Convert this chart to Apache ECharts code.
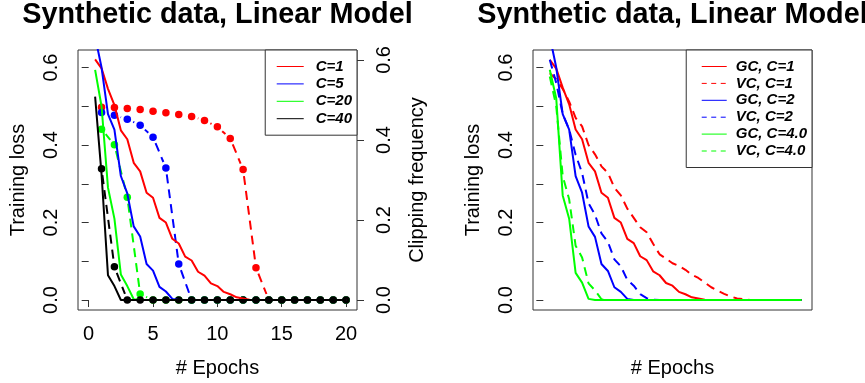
<!DOCTYPE html>
<html><head><meta charset="utf-8">
<script src="https://cdn.jsdelivr.net/npm/echarts@6/dist/echarts.min.js"></script>
<style>html,body{margin:0;padding:0;background:#fff}#chart{width:865px;height:383px}</style>
</head><body><div id="chart"></div>
<script>
// ---------- data ----------
const titleText = 'Synthetic data, Linear Model';
const lossEpochs = [0.5,1,1.5,2,2.5,3,3.5,4,4.5,5,5.5,6,6.5,7,7.5,8,8.5,9,9.5,10,10.5,11,11.5,12,12.5,13,13.5,14,14.5,15,15.5,16,16.5,17,17.5,18,18.5,19,19.5,20];
const clipEpochs = [1,2,3,4,5,6,7,8,9,10,11,12,13,14,15,16,17,18,19,20];
const leftNames = ['C=1','C=5','C=20','C=40'];
// training loss (left axis), left panel
const lossC1  = [0.621,0.598,0.545,0.503,0.438,0.415,0.354,0.332,0.277,0.264,0.212,0.200,0.158,0.146,0.112,0.102,0.073,0.063,0.043,0.036,0.021,0.015,0.007,0.004,0.001,0,0,0,0,0,0,0,0,0,0,0,0,0,0,0];
const lossC5  = [0.680,0.600,0.480,0.440,0.320,0.275,0.190,0.164,0.093,0.076,0.034,0.022,0.003,0,0,0,0,0,0,0,0,0,0,0,0,0,0,0,0,0,0,0,0,0,0,0,0,0,0,0];
const lossC20 = [0.594,0.500,0.290,0.210,0.066,0.036,0.002,0,0,0,0,0,0,0,0,0,0,0,0,0,0,0,0,0,0,0,0,0,0,0,0,0,0,0,0,0,0,0,0,0];
const lossC40 = [0.525,0.325,0.064,0.036,0,0,0,0,0,0,0,0,0,0,0,0,0,0,0,0,0,0,0,0,0,0,0,0,0,0,0,0,0,0,0,0,0,0,0,0];
// clipping frequency (right axis), left panel
const clipC1  = [0.482,0.481,0.479,0.476,0.472,0.468,0.464,0.459,0.449,0.433,0.404,0.326,0.081,0,0,0,0,0,0,0];
const clipC5  = [0.469,0.462,0.452,0.437,0.407,0.330,0.090,0,0,0,0,0,0,0,0,0,0,0,0,0];
const clipC20 = [0.427,0.388,0.257,0.015,0,0,0,0,0,0,0,0,0,0,0,0,0,0,0,0];
const clipC40 = [0.328,0.083,0,0,0,0,0,0,0,0,0,0,0,0,0,0,0,0,0,0];
// right panel
const rightEpochs = [1,2,3,4,5,6,7,8,9,10,11,12,13,14,15,16,17,18,19,20,21,22,23,24,25,26,27,28,29,30,31,32,33,34,35,36,37,38,39,40];
const rightNames = ['GC, C=1','VC, C=1','GC, C=2','VC, C=2','GC, C=4.0','VC, C=4.0'];
const gcC1 = [0.620,0.597,0.548,0.505,0.440,0.415,0.354,0.332,0.277,0.264,0.212,0.200,0.158,0.147,0.113,0.103,0.074,0.064,0.044,0.037,0.021,0.015,0.007,0.004,0.001,0,0,0,0,0,0,0,0,0,0,0,0,0,0,0];
const vcC1 = [0.585,0.570,0.545,0.512,0.470,0.448,0.400,0.376,0.345,0.328,0.290,0.270,0.236,0.212,0.188,0.175,0.145,0.118,0.107,0.095,0.088,0.078,0.065,0.057,0.045,0.033,0.024,0.016,0.009,0.004,0.002,0,0,0,0,0,0,0,0,0];
const gcC2 = [0.680,0.600,0.480,0.440,0.320,0.277,0.190,0.163,0.093,0.075,0.033,0.021,0.003,0,0,0,0,0,0,0,0,0,0,0,0,0,0,0,0,0,0,0,0,0,0,0,0,0,0,0];
const vcC2 = [0.620,0.560,0.480,0.440,0.375,0.328,0.250,0.220,0.172,0.150,0.105,0.087,0.052,0.037,0.015,0.005,0.001,0,0,0,0,0,0,0,0,0,0,0,0,0,0,0,0,0,0,0,0,0,0,0];
const gcC4 = [0.594,0.520,0.270,0.210,0.070,0.045,0.003,0,0,0,0,0,0,0,0,0,0,0,0,0,0,0,0,0,0,0,0,0,0,0,0,0,0,0,0,0,0,0,0,0];
const vcC4 = [0.577,0.500,0.320,0.260,0.140,0.110,0.043,0.025,0.002,0,0,0,0,0,0,0,0,0,0,0,0,0,0,0,0,0,0,0,0,0,0,0,0,0,0,0,0,0,0,0];
// ticks
const xTicks = [0,5,10,15,20];
const lossTicks = [0,0.1,0.2,0.3,0.4,0.5,0.6];
const lossLabels = [0,0.2,0.4,0.6];
const clipTicks = [0,0.2,0.4,0.6];

// ---------- styles ----------
const FONT = "'Liberation Sans', Arial, Helvetica, sans-serif";
const RED = '#ff0000', BLUE = '#0000ff', GREEN = '#00ff00', BLACK = '#000000';
const DASH = [9, 6];
const LEG_DASH = [5, 4.5];
const GAP = 6.5;

function lineSeries(name, xs, ys, color, dashed, xi, yi) {
  return {
    type: 'line', name: name, xAxisIndex: xi, yAxisIndex: yi,
    data: xs.map((x, i) => [x, ys[i]]),
    symbol: 'none', clip: true, silent: true,
    lineStyle: { color: color, width: 2, type: dashed ? DASH : 'solid' },
    itemStyle: { color: color }
  };
}
function segSeries(name, xs, ys, color) {
  const data = [];
  for (let i = 0; i < xs.length - 1; i++) data.push([xs[i], ys[i], xs[i + 1], ys[i + 1]]);
  return {
    type: 'custom', name: name, xAxisIndex: 0, yAxisIndex: 1, data: data,
    encode: { x: [0, 2], y: [1, 3] }, clip: true, silent: true,
    renderItem: function (params, api) {
      const p0 = api.coord([api.value(0), api.value(1)]);
      const p1 = api.coord([api.value(2), api.value(3)]);
      const dx = p1[0] - p0[0], dy = p1[1] - p0[1];
      const len = Math.sqrt(dx * dx + dy * dy);
      if (len <= 2 * GAP) return { type: 'group', children: [] };
      const ux = dx / len, uy = dy / len;
      return {
        type: 'line',
        shape: { x1: p0[0] + ux * GAP, y1: p0[1] + uy * GAP, x2: p1[0] - ux * GAP, y2: p1[1] - uy * GAP },
        style: { stroke: color, lineWidth: 2, lineDash: DASH, fill: null }
      };
    }
  };
}
function dotSeries(name, xs, ys, color) {
  return {
    type: 'scatter', name: name, xAxisIndex: 0, yAxisIndex: 1,
    data: xs.map((x, i) => [x, ys[i]]), symbol: 'circle', symbolSize: 7.5,
    itemStyle: { color: color, opacity: 1 }, silent: true
  };
}

const tickStyle = { lineStyle: { color: '#333', width: 1 }, length: 7, inside: false };
const labelStyle = { fontSize: 20, color: '#000', fontFamily: FONT };
const nameStyle = { fontSize: 20, color: '#000', fontFamily: FONT };
const fmt1 = v => Number(v).toFixed(1);

function yLoss(gridIndex) {
  return {
    type: 'value', gridIndex: gridIndex, position: 'left', min: -0.0257, max: 0.6452,
    axisLine: { show: false }, splitLine: { show: false },
    axisTick: Object.assign({ customValues: lossTicks }, tickStyle),
    axisLabel: Object.assign({ customValues: lossLabels, rotate: 90, margin: 17, formatter: fmt1 }, labelStyle),
    name: 'Training loss', nameLocation: 'middle', nameGap: 50, nameTextStyle: nameStyle
  };
}
const hiddenSymbol = { color: 'rgba(0,0,0,0)', borderColor: 'rgba(0,0,0,0)', borderWidth: 0, opacity: 0 };
const legendText = { fontSize: 15, fontWeight: 'bold', fontStyle: 'italic', color: '#000', fontFamily: FONT };
const titleStyle = { fontSize: 28.8, fontWeight: 'bold', color: '#000', fontFamily: FONT };

const option = {
  animation: false,
  backgroundColor: '#fff',
  title: [
    { text: titleText, left: 217.5, top: 1, textAlign: 'center', padding: 0, textStyle: titleStyle },
    { text: titleText, left: 672.5, top: 1, textAlign: 'center', padding: 0, textStyle: titleStyle }
  ],
  grid: [
    { left: 78, top: 50, width: 279, height: 261, show: true, borderColor: '#333', borderWidth: 1, backgroundColor: 'transparent' },
    { left: 533, top: 50, width: 279, height: 261, show: true, borderColor: '#333', borderWidth: 1, backgroundColor: 'transparent' }
  ],
  xAxis: [
    { type: 'value', gridIndex: 0, min: -0.83, max: 20.85,
      axisLine: { show: false }, splitLine: { show: false },
      axisTick: Object.assign({ customValues: xTicks }, tickStyle),
      axisLabel: Object.assign({ customValues: xTicks, margin: 14 }, labelStyle),
      name: '# Epochs', nameLocation: 'middle', nameGap: 48, nameTextStyle: nameStyle },
    { type: 'value', gridIndex: 1, min: -1.6, max: 41.6,
      axisLine: { show: false }, splitLine: { show: false },
      axisTick: { show: false }, axisLabel: { show: false },
      name: '# Epochs', nameLocation: 'middle', nameGap: 48, nameTextStyle: nameStyle }
  ],
  yAxis: [
    yLoss(0),
    { type: 'value', gridIndex: 0, position: 'right', min: -0.0249, max: 0.6249,
      axisLine: { show: false }, splitLine: { show: false },
      axisTick: Object.assign({ customValues: clipTicks }, tickStyle),
      axisLabel: Object.assign({ customValues: clipTicks, rotate: 90, margin: 17, formatter: fmt1 }, labelStyle),
      name: 'Clipping frequency', nameLocation: 'middle', nameGap: 50, nameTextStyle: nameStyle },
    yLoss(1)
  ],
  legend: [
    { data: leftNames.map(n => ({ name: n, itemStyle: hiddenSymbol, lineStyle: { type: 'solid', width: 1 } })),
      orient: 'vertical', right: 865 - 357, top: 50,
      itemWidth: 27, itemHeight: 14, itemGap: 2.4, padding: [9, 5, 9, 11],
      borderColor: '#333', borderWidth: 1, backgroundColor: '#fff', selectedMode: false,
      itemStyle: hiddenSymbol, lineStyle: { width: 1 },
      textStyle: Object.assign({ padding: [0, 0, 0, 7] }, legendText) },
    { data: rightNames.map((n, i) => ({ name: n, itemStyle: hiddenSymbol, lineStyle: { type: i % 2 ? LEG_DASH : 'solid', width: 1 } })),
      orient: 'vertical', right: 865 - 812, top: 50,
      itemWidth: 25, itemHeight: 14, itemGap: 1.9, padding: [9, 5, 9, 15],
      borderColor: '#333', borderWidth: 1, backgroundColor: '#fff', selectedMode: false,
      itemStyle: hiddenSymbol, lineStyle: { width: 1 },
      textStyle: Object.assign({ padding: [0, 0, 0, 4] }, legendText) }
  ],
  series: [
    lineSeries('C=1', lossEpochs, lossC1, RED, false, 0, 0),
    lineSeries('C=5', lossEpochs, lossC5, BLUE, false, 0, 0),
    lineSeries('C=20', lossEpochs, lossC20, GREEN, false, 0, 0),
    lineSeries('C=40', lossEpochs, lossC40, BLACK, false, 0, 0),
    segSeries('clip C=1', clipEpochs, clipC1, RED),
    segSeries('clip C=5', clipEpochs, clipC5, BLUE),
    segSeries('clip C=20', clipEpochs, clipC20, GREEN),
    segSeries('clip C=40', clipEpochs, clipC40, BLACK),
    dotSeries('dots C=1', clipEpochs, clipC1, RED),
    dotSeries('dots C=5', clipEpochs, clipC5, BLUE),
    dotSeries('dots C=20', clipEpochs, clipC20, GREEN),
    dotSeries('dots C=40', clipEpochs, clipC40, BLACK),
    lineSeries(rightNames[0], rightEpochs, gcC1, RED, false, 1, 2),
    lineSeries(rightNames[1], rightEpochs, vcC1, RED, true, 1, 2),
    lineSeries(rightNames[2], rightEpochs, gcC2, BLUE, false, 1, 2),
    lineSeries(rightNames[3], rightEpochs, vcC2, BLUE, true, 1, 2),
    lineSeries(rightNames[4], rightEpochs, gcC4, GREEN, false, 1, 2),
    lineSeries(rightNames[5], rightEpochs, vcC4, GREEN, true, 1, 2)
  ]
};
const chart = echarts.init(document.getElementById('chart'), null, { renderer: 'canvas' });
chart.setOption(option);
</script>
</body></html>
